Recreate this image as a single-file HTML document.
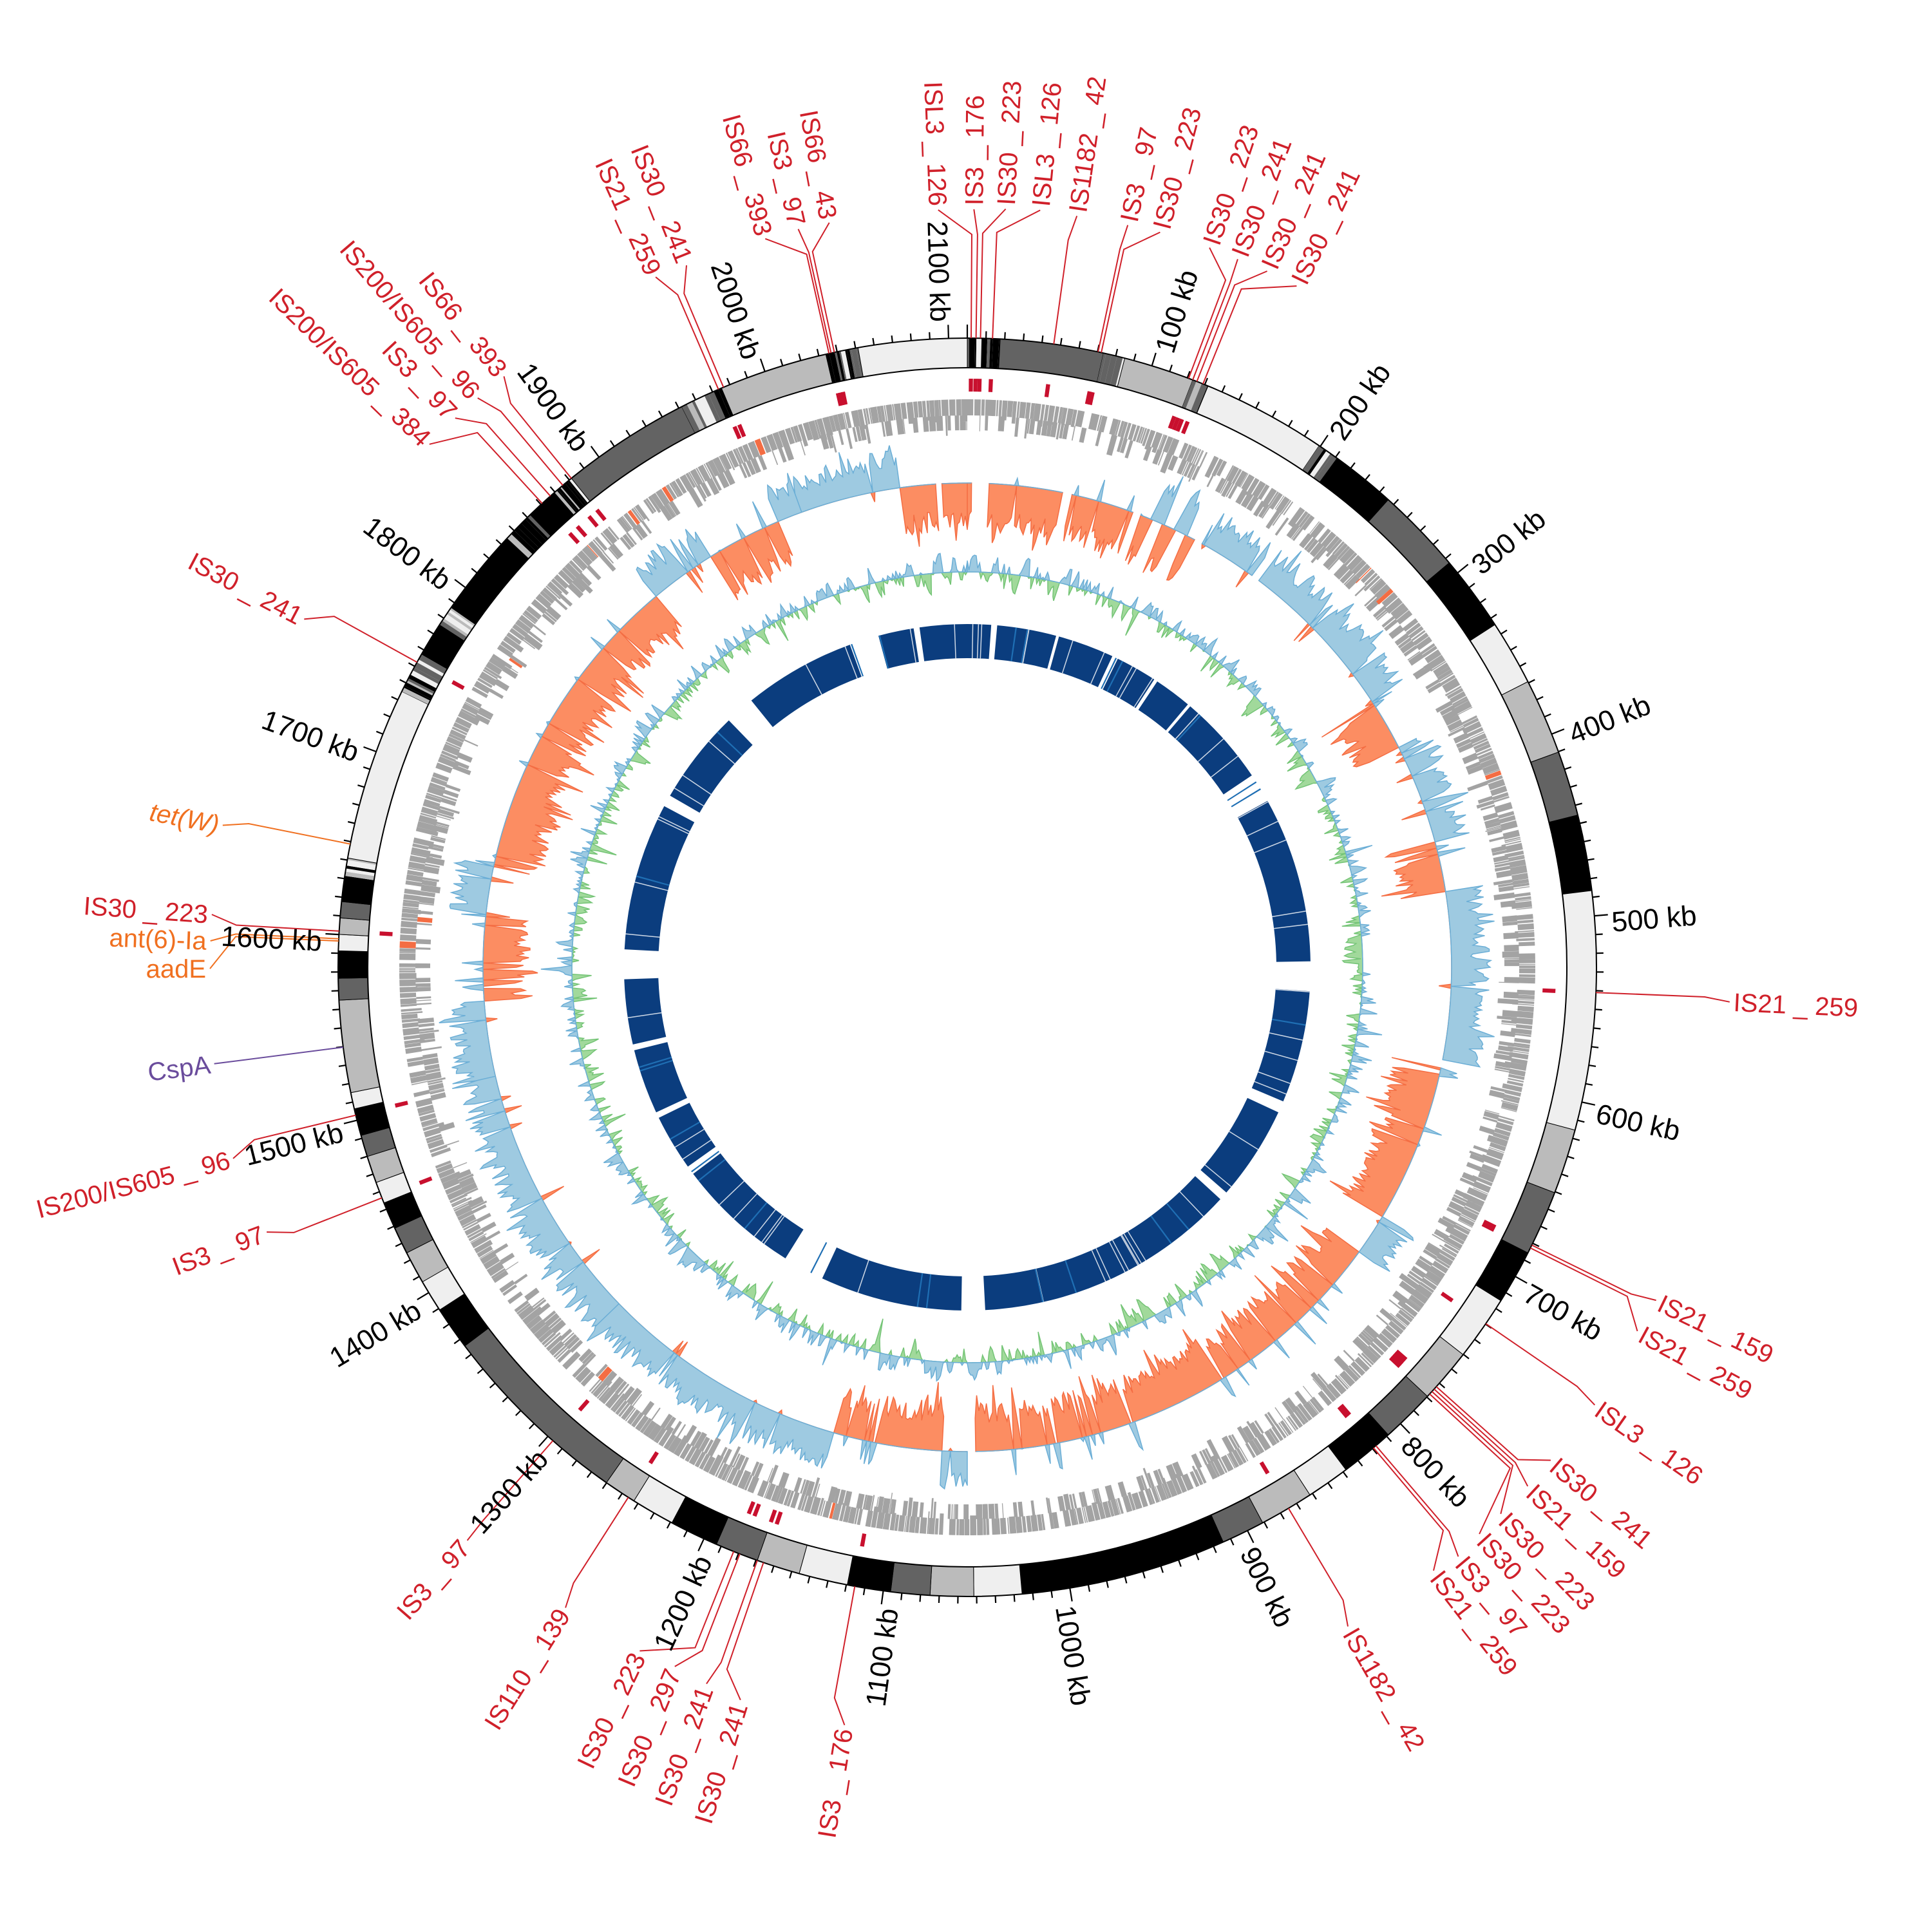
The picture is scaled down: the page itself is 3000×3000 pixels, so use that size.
<!DOCTYPE html>
<html><head><meta charset="utf-8"><style>
html,body{margin:0;padding:0;background:#fff;}
svg{display:block;}
text{font-family:"Liberation Sans Narrow","Liberation Sans",sans-serif;}
.k{font-size:44px;fill:#000;}
.l{font-size:40px;fill:#d0202a;}
.o{fill:#f07020;}
.p{fill:#6a4c9c;}
</style></head><body>
<svg id="s" xmlns="http://www.w3.org/2000/svg" width="3000" height="3000" viewBox="0 0 3000 3000">
<rect width="3000" height="3000" fill="#fff"/>
<g id="g"></g>
<g class="k" dominant-baseline="middle">
<text transform="rotate(-72.94 1502 1502)" x="2505" y="1502" dy="0.35em">100 kb</text>
<text transform="rotate(-55.88 1502 1502)" x="2505" y="1502" dy="0.35em">200 kb</text>
<text transform="rotate(-38.82 1502 1502)" x="2505" y="1502" dy="0.35em">300 kb</text>
<text transform="rotate(-21.75 1502 1502)" x="2505" y="1502" dy="0.35em">400 kb</text>
<text transform="rotate(-4.69 1502 1502)" x="2505" y="1502" dy="0.35em">500 kb</text>
<text transform="rotate(12.37 1502 1502)" x="2505" y="1502" dy="0.35em">600 kb</text>
<text transform="rotate(29.43 1502 1502)" x="2505" y="1502" dy="0.35em">700 kb</text>
<text transform="rotate(46.49 1502 1502)" x="2505" y="1502" dy="0.35em">800 kb</text>
<text transform="rotate(63.55 1502 1502)" x="2505" y="1502" dy="0.35em">900 kb</text>
<text transform="rotate(80.62 1502 1502)" x="2505" y="1502" dy="0.35em">1000 kb</text>
<text transform="rotate(-82.32 1502 1502)" x="499" y="1502" dy="0.35em" text-anchor="end">1100 kb</text>
<text transform="rotate(-65.26 1502 1502)" x="499" y="1502" dy="0.35em" text-anchor="end">1200 kb</text>
<text transform="rotate(-48.2 1502 1502)" x="499" y="1502" dy="0.35em" text-anchor="end">1300 kb</text>
<text transform="rotate(-31.14 1502 1502)" x="499" y="1502" dy="0.35em" text-anchor="end">1400 kb</text>
<text transform="rotate(-14.08 1502 1502)" x="499" y="1502" dy="0.35em" text-anchor="end">1500 kb</text>
<text transform="rotate(2.99 1502 1502)" x="499" y="1502" dy="0.35em" text-anchor="end">1600 kb</text>
<text transform="rotate(20.05 1502 1502)" x="499" y="1502" dy="0.35em" text-anchor="end">1700 kb</text>
<text transform="rotate(37.11 1502 1502)" x="499" y="1502" dy="0.35em" text-anchor="end">1800 kb</text>
<text transform="rotate(54.17 1502 1502)" x="499" y="1502" dy="0.35em" text-anchor="end">1900 kb</text>
<text transform="rotate(71.23 1502 1502)" x="499" y="1502" dy="0.35em" text-anchor="end">2000 kb</text>
<text transform="rotate(88.29 1502 1502)" x="499" y="1502" dy="0.35em" text-anchor="end">2100 kb</text>
</g>
<g class="l">
<text transform="rotate(87.8 1502 1502)" x="319" y="1502" dy="0.35em" text-anchor="end">ISL3 _ 126</text>
<text transform="rotate(-89.5 1502 1502)" x="2685" y="1502" dy="0.35em">IS3 _ 176</text>
<text transform="rotate(-87.1 1502 1502)" x="2687" y="1502" dy="0.35em">IS30 _ 223</text>
<text transform="rotate(-84.5 1502 1502)" x="2689" y="1502" dy="0.35em">ISL3 _ 126</text>
<text transform="rotate(-81.7 1502 1502)" x="2687" y="1502" dy="0.35em">IS1182 _ 42</text>
<text transform="rotate(-77.8 1502 1502)" x="2687" y="1502" dy="0.35em">IS3 _ 97</text>
<text transform="rotate(-75.3 1502 1502)" x="2688" y="1502" dy="0.35em">IS30 _ 223</text>
<text transform="rotate(-71.4 1502 1502)" x="2687" y="1502" dy="0.35em">IS30 _ 223</text>
<text transform="rotate(-69.1 1502 1502)" x="2685" y="1502" dy="0.35em">IS30 _ 241</text>
<text transform="rotate(-66.7 1502 1502)" x="2685" y="1502" dy="0.35em">IS30 _ 241</text>
<text transform="rotate(-64.2 1502 1502)" x="2683" y="1502" dy="0.35em">IS30 _ 241</text>
<text transform="rotate(79.5 1502 1502)" x="320" y="1502" dy="0.35em" text-anchor="end">IS66 _ 43</text>
<text transform="rotate(77.1 1502 1502)" x="320" y="1502" dy="0.35em" text-anchor="end">IS3 _ 97</text>
<text transform="rotate(74.5 1502 1502)" x="322" y="1502" dy="0.35em" text-anchor="end">IS66 _ 393</text>
<text transform="rotate(68.2 1502 1502)" x="322" y="1502" dy="0.35em" text-anchor="end">IS30 _ 241</text>
<text transform="rotate(65.7 1502 1502)" x="320" y="1502" dy="0.35em" text-anchor="end">IS21 _ 259</text>
<text transform="rotate(51.9 1502 1502)" x="330" y="1502" dy="0.35em" text-anchor="end">IS66 _ 393</text>
<text transform="rotate(49.3 1502 1502)" x="330" y="1502" dy="0.35em" text-anchor="end">IS200/IS605 _ 96</text>
<text transform="rotate(47 1502 1502)" x="330" y="1502" dy="0.35em" text-anchor="end">IS3 _ 97</text>
<text transform="rotate(44.2 1502 1502)" x="331" y="1502" dy="0.35em" text-anchor="end">IS200/IS605 _ 384</text>
<text transform="rotate(27.7 1502 1502)" x="333" y="1502" dy="0.35em" text-anchor="end">IS30 _ 241</text>
<text class="o" font-style="italic" transform="rotate(10.8 1502 1502)" x="319" y="1502" dy="0.35em" text-anchor="end">tet(W)</text>
<text transform="rotate(4 1502 1502)" x="320" y="1502" dy="0.35em" text-anchor="end">IS30 _ 223</text>
<text class="o" transform="rotate(2 1502 1502)" x="320" y="1502" dy="0.35em" text-anchor="end">ant(6)-Ia</text>
<text class="o" transform="rotate(-0.1 1502 1502)" x="320" y="1502" dy="0.35em" text-anchor="end">aadE</text>
<text class="p" transform="rotate(-7.3 1502 1502)" x="317" y="1502" dy="0.35em" text-anchor="end">CspA</text>
<text transform="rotate(-14.6 1502 1502)" x="318" y="1502" dy="0.35em" text-anchor="end">IS200/IS605 _ 96</text>
<text transform="rotate(-20.7 1502 1502)" x="333" y="1502" dy="0.35em" text-anchor="end">IS3 _ 97</text>
<text transform="rotate(-48.9 1502 1502)" x="315" y="1502" dy="0.35em" text-anchor="end">IS3 _ 97</text>
<text transform="rotate(-57.9 1502 1502)" x="322" y="1502" dy="0.35em" text-anchor="end">IS110 _ 139</text>
<text transform="rotate(-64.4 1502 1502)" x="319" y="1502" dy="0.35em" text-anchor="end">IS30 _ 223</text>
<text transform="rotate(-67.3 1502 1502)" x="319" y="1502" dy="0.35em" text-anchor="end">IS30 _ 297</text>
<text transform="rotate(-70 1502 1502)" x="312" y="1502" dy="0.35em" text-anchor="end">IS30 _ 241</text>
<text transform="rotate(-72.8 1502 1502)" x="305" y="1502" dy="0.35em" text-anchor="end">IS30 _ 241</text>
<text transform="rotate(-80.8 1502 1502)" x="304" y="1502" dy="0.35em" text-anchor="end">IS3 _ 176</text>
<text transform="rotate(2.6 1502 1502)" x="2693" y="1502" dy="0.35em">IS21 _ 259</text>
<text transform="rotate(25.8 1502 1502)" x="2696" y="1502" dy="0.35em">IS21 _ 159</text>
<text transform="rotate(28.5 1502 1502)" x="2692" y="1502" dy="0.35em">IS21 _ 259</text>
<text transform="rotate(34.9 1502 1502)" x="2696" y="1502" dy="0.35em">ISL3 _ 126</text>
<text transform="rotate(40.2 1502 1502)" x="2694" y="1502" dy="0.35em">IS30 _ 241</text>
<text transform="rotate(42.8 1502 1502)" x="2694" y="1502" dy="0.35em">IS21 _ 159</text>
<text transform="rotate(45.7 1502 1502)" x="2694" y="1502" dy="0.35em">IS30 _ 223</text>
<text transform="rotate(47.9 1502 1502)" x="2694" y="1502" dy="0.35em">IS30 _ 223</text>
<text transform="rotate(50.2 1502 1502)" x="2699" y="1502" dy="0.35em">IS3 _ 97</text>
<text transform="rotate(52.3 1502 1502)" x="2692" y="1502" dy="0.35em">IS21 _ 259</text>
<text transform="rotate(60 1502 1502)" x="2690" y="1502" dy="0.35em">IS1182 _ 42</text>
</g>
</svg>
<script>
(function(){
var NS='http://www.w3.org/2000/svg',cx=1502,cy=1502,G=2110;
var g=document.getElementById('g');
var seed=12345;function rnd(){seed=(seed*16807)%2147483647;return seed/2147483647;}
function P(r,a){a=a*Math.PI/180;return (cx+r*Math.sin(a)).toFixed(1)+','+(cy-r*Math.cos(a)).toFixed(1);}
function sec(r1,r2,a1,a2){var l=(a2-a1)>180?1:0;return 'M'+P(r2,a1)+'A'+r2+','+r2+' 0 '+l+' 1 '+P(r2,a2)+'L'+P(r1,a2)+'A'+r1+','+r1+' 0 '+l+' 0 '+P(r1,a1)+'Z';}
function add(tag,at){var e=document.createElementNS(NS,tag);for(var k in at)e.setAttribute(k,at[k]);g.appendChild(e);return e;}
var W='#efefef',L='#bbbbbb',D='#636363',B='#000000',S='S';
var bands=[[0,3,S],[3,12.5,D],[12.5,14.5,S],[14.5,21,L],[21,22.5,S],[22.5,34,W],[34,36,S],[36,42,B],[42,50,D],[50,57,B],[57,63,W],[63,70,L],[70,76,D],[76,83,B],[83,105,W],[105,111,L],[111,117,D],[117,122,B],[122,128,W],[128,133,L],[133,138,D],[138,143,B],[143,147,W],[147,152,L],[152,156,D],[156,175,B],[175,179.4,W],[179.4,183.4,L],[183.4,187,D],[187,191,B],[191,195.5,W],[195.5,199.5,L],[199.5,203.5,D],[203.5,208,B],[208,212,W],[212,215,L],[215,233,D],[233,237,B],[237,240,W],[240,243,L],[243,245.5,D],[245.5,248,B],[248,250,W],[250,252.5,L],[252.5,254.5,D],[254.5,257,B],[257,258.5,W],[258.5,267,L],[267,269,D],[269,271.5,B],[271.5,273,W],[273,274.5,L],[274.5,276,D],[276,278,B],[278,280,S],[280,296,W],[296,300,S],[300,303,B],[303,305,S],[305,313,B],[313,316,S],[316,319,B],[319,321,S],[321,333,D],[333,337,S],[337,347,L],[347,350,S],[350,360,W]];
var R1=931,R2=977;
var cols=[B,D,L,W,B,D];
bands.forEach(function(b){
 if(b[2]===S){var a=b[0];while(a<b[1]){var w=0.12+rnd()*0.45;var e=Math.min(b[1],a+w);add('path',{d:sec(R1,R2,a,e),fill:cols[Math.floor(rnd()*cols.length)]});a=e;}}
 else add('path',{d:sec(R1,R2,b[0],b[1]),fill:b[2],stroke:'#000','stroke-width':1});
});
add('circle',{cx:cx,cy:cy,r:R2,fill:'none',stroke:'#000','stroke-width':2});
add('circle',{cx:cx,cy:cy,r:R1,fill:'none',stroke:'#000','stroke-width':2});
var td='';
for(var k=0;k<G;k+=10){var a=k*360/G;var big=(k%100===0);td+='M'+P(R2,a)+'L'+P(big?998:988,a);}
add('path',{d:td,stroke:'#000','stroke-width':2.2,fill:'none'});
var RED='#d0202a',OR='#f07020',PU='#6a4c9c';
var labs=[[0.35,357.8,1183],[0.8,0.5,1183],[1.2,2.9,1185],[2.3,5.5,1187],[7.9,8.3,1185],[12.0,12.2,1185],[12.3,14.7,1186],[20.6,18.6,1185],[21.0,20.9,1183],[21.4,23.3,1183],[22.0,25.8,1181],[347.8,349.5,1182],[347.5,347.1,1182],[347.3,344.5,1180],[337.2,338.2,1180],[336.7,335.7,1182],[321,321.9,1172],[320,319.3,1172],[318.5,317,1172],[317.5,314.2,1171],[299,297.7,1169],[281.3,280.8,1183,OR],[273.3,274,1182],[272.6,272,1182,OR],[272.4,269.9,1182,OR],[262.7,262.7,1185,PU],[256.4,255.4,1184],[248.5,249.3,1169],[221.2,221.1,1187],[212.6,212.1,1180],[201.8,205.6,1183],[201.2,202.7,1183],[199.5,200,1190],[198.9,197.2,1197],[190.3,189.2,1198],[92.3,92.6,1191],[116.2,115.8,1194],[116.5,118.5,1190],[124.5,124.9,1194],[131.8,130.2,1192],[132.1,132.8,1192],[132.4,135.7,1192],[132.7,137.9,1192],[139.5,140.2,1197],[139.8,142.3,1190],[149.3,150,1188]];
labs.forEach(function(l){var c=l[3]||RED;
 add('path',{d:'M'+P(R2,l[0])+'L'+P(l[2]-45,l[0])+'L'+P(l[2]-6,l[1]),stroke:c,'stroke-width':2,fill:'none'});
 if(c===RED) add('path',{d:sec(894,914,l[0]-0.2,l[0]+0.2),fill:'#c8102e'});
});
var gd='',od='';
[[857,882,0.9],[834,857,0.6]].forEach(function(t){var a=0;while(a<360){var w=0.08+rnd()*0.6;if(rnd()<t[2]){var r1=t[0],r2=t[1];if(rnd()<0.25){r1-=rnd()*10;}
 var p=sec(r1,r2,a,a+w);if(rnd()<0.012)od+=p;else gd+=p;}a+=w+rnd()*0.12;}});
add('path',{d:gd,fill:'#a3a3a3'});add('path',{d:od,fill:'#f46d43'});
var skew=[[340,352,'b'],[352,356.3,'o'],[357,360,'o'],[0,0.4,'o'],[2.6,11.4,'o'],[12.5,20,'o'],[21,28,'m'],[29,36,'b'],[37,45,'b'],[45,57,'b'],[57,63,'o'],[63,75,'b'],[75,81,'o'],[81,101,'b'],[102,121,'o'],[121,126,'b'],[126,146,'o'],[146,179,'o'],[180,183,'b'],[183,196,'o'],[196,226,'b'],[226,257,'b'],[257,266,'b'],[266,276,'o'],[276,282,'b'],[282,320,'o'],[320,328,'b'],[328,337,'o'],[337,340,'b']];
var SB=752,bd='',odd='';
function poly(base,vals,a1,step,sign){var s='M'+P(base,a1);for(var i=0;i<vals.length;i++){var v=sign>0?Math.max(vals[i],0):Math.min(vals[i],0);s+='L'+P(base+v,a1+i*step);}s+='L'+P(base,a1+(vals.length-1)*step);for(var j=vals.length-1;j>=0;j-=4)s+='L'+P(base,a1+j*step);s+='L'+P(base,a1)+'Z';return s;}
skew.forEach(function(s){var step=0.25,n=Math.max(2,Math.round((s[1]-s[0])/step)+1),vals=[];
 for(var i=0;i<n;i++){var t=s[2];if(t==='m')t=(Math.floor(i/6)%2)?'b':'o';var v;
  if(t==='b'){v=80*(0.35+0.4*rnd())+(rnd()<0.15?30*rnd():0);if(rnd()<0.05)v=-40*rnd();}
  else{v=-(95*(0.45+0.35*rnd())+(rnd()<0.15?35*rnd():0));if(rnd()<0.06)v=45*rnd();}
  vals.push(v);}
 bd+=poly(SB,vals,s[0],step,1);odd+=poly(SB,vals,s[0],step,-1);});
add('path',{d:odd,fill:'#fc8d62',stroke:'#f46d43','stroke-width':1.5});
add('path',{d:bd,fill:'#9ecae1',stroke:'#6baed6','stroke-width':1.5});
var vals=[],step=0.25,cur=0;for(var i=0;i<=1440;i++){cur=cur*0.5+(rnd()-0.5)*40;var v=cur+(rnd()<0.08?(rnd()-0.5)*70:0);vals.push(v);}
add('path',{d:poly(614,vals,0,step,-1),fill:'#a1d99b',stroke:'#74c476','stroke-width':1.5});
add('path',{d:poly(614,vals,0,step,1),fill:'#9ecae1',stroke:'#6baed6','stroke-width':1.5});
var db=[[345,351],[352,364],[5,15],[15.5,25],[26,33],[33.6,40],[40.5,56],[61,89],[94,113],[115,131],[132.5,177],[181,205],[212,233],[234.5,244],[245,256],[257,268],[273,298],[300,316],[321,340]];
var dd='';db.forEach(function(s){dd+=sec(480,533,s[0],s[1]);});
add('path',{d:dd,fill:'#0b3d7e'});
var wl='';for(var i=0;i<60;i++){var a=rnd()*360;wl+='M'+P(480,a)+'L'+P(533,a);}
add('path',{d:wl,stroke:'#fff','stroke-width':1.5,fill:'none',opacity:0.8});
var lb='';for(var i=0;i<25;i++){var a=rnd()*360;lb+=sec(480,533,a,a+0.25);}
add('path',{d:lb,fill:'#1f6fb4'});
})();
</script>
</body></html>
